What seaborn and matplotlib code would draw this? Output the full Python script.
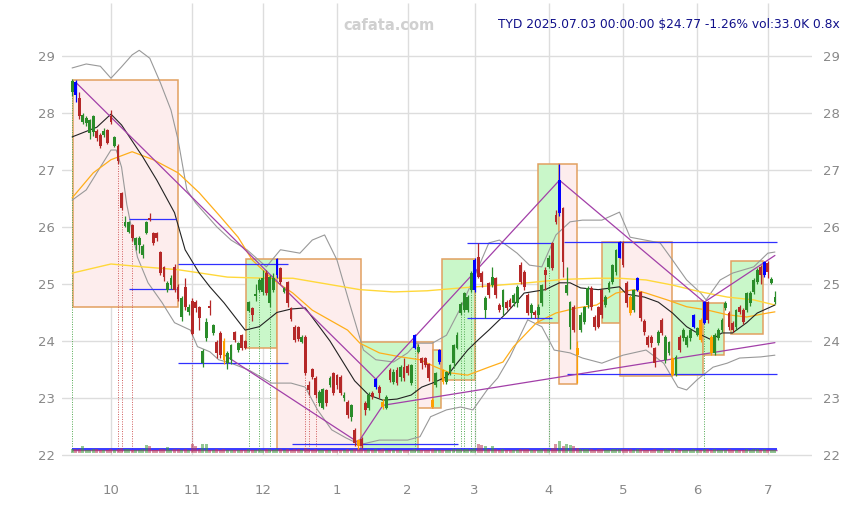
import numpy as np
import pandas as pd
import matplotlib
matplotlib.use("Agg")
import matplotlib.pyplot as plt
import seaborn as sns
from matplotlib.patches import Rectangle

# ---- data ----
holidays = ["2024-11-28", "2024-12-25", "2025-01-01", "2025-01-09", "2025-01-20",
            "2025-02-17", "2025-04-18", "2025-05-26", "2025-06-19"]
dates = pd.bdate_range("2024-09-16", "2025-07-03")
dates = dates[~dates.isin(pd.to_datetime(holidays))]

opens = [28.37, 28.55, 28.26, 27.84, 27.82, 27.65, 27.67, 27.68, 27.61, 27.62,
         27.70, 27.94, 27.42, 27.42, 26.60, 26.02, 25.92, 26.03, 25.68, 25.68,
         25.51, 25.90, 26.15, 25.90, 25.90, 25.56, 25.30, 24.90, 24.98, 25.30,
         24.95, 24.42, 24.95, 24.50, 24.70, 24.69, 24.60, 23.61, 24.05, 24.62,
         24.14, 23.99, 24.14, 24.00, 23.61, 23.67, 24.15, 23.84, 24.10, 24.00,
         24.53, 24.58, 24.78, 24.90, 24.86, 25.19, 24.67, 24.90, 25.16, 25.28,
         24.86, 25.04, 24.58, 24.25, 24.24, 23.98, 24.07, 23.23, 23.50, 23.35,
         22.91, 22.82, 23.14, 23.23, 23.44, 23.40, 23.37, 23.00, 22.93, 22.67,
         22.44, 22.26, 22.28, 22.91, 22.82, 23.09, 23.19, 23.19, 22.93, 22.82,
         23.49, 23.28, 23.49, 23.37, 23.54, 23.56, 23.26, 23.88, 23.81, 23.70,
         23.70, 23.60, 22.96, 23.23, 23.63, 23.49, 23.28, 23.46, 23.61, 23.88,
         24.49, 24.54, 24.54, 24.90, 24.90, 25.47, 25.19, 24.54, 25.02, 24.98,
         25.10, 24.63, 24.60, 24.68, 24.72, 24.67, 24.67, 25.33, 25.21, 24.81,
         24.49, 24.51, 24.45, 24.67, 25.25, 25.30, 25.72, 26.21, 26.25, 26.33,
         24.84, 24.25, 24.60, 23.88, 24.19, 24.33, 24.63, 24.93, 24.42, 24.60,
         24.90, 24.63, 24.90, 25.04, 25.21, 25.46, 25.72, 25.02, 24.77, 24.54,
         24.90, 24.86, 24.35, 24.07, 24.07, 23.88, 23.96, 24.37, 23.67, 23.79,
         23.70, 23.40, 24.07, 24.05, 23.93, 24.05, 24.25, 24.11, 24.37, 24.32,
         24.68, 24.07, 23.79, 24.05, 24.19, 24.58, 24.49, 24.32, 24.25, 24.60,
         24.54, 24.54, 24.67, 24.86, 25.04, 25.30, 25.16, 25.37, 25.02, 24.68]
closes = [28.57, 28.32, 27.95, 27.96, 27.92, 27.88, 27.95, 27.56, 27.42, 27.68,
          27.48, 27.84, 27.58, 27.15, 26.34, 26.09, 26.09, 25.81, 25.80, 25.80,
          25.67, 26.08, 26.12, 25.72, 25.80, 25.19, 25.12, 25.02, 25.10, 24.90,
          24.74, 24.75, 24.60, 24.60, 24.12, 24.58, 24.40, 23.82, 24.34, 24.58,
          24.28, 23.78, 23.75, 23.67, 23.79, 23.93, 24.02, 23.96, 23.88, 23.88,
          24.69, 24.46, 24.82, 25.07, 25.10, 24.84, 25.13, 25.10, 25.44, 25.04,
          24.93, 24.67, 24.39, 24.01, 24.03, 24.07, 23.43, 23.14, 23.37, 23.05,
          23.11, 23.16, 22.91, 23.35, 23.09, 23.23, 23.09, 23.05, 22.70, 22.88,
          22.21, 22.15, 22.16, 22.79, 23.05, 23.02, 23.33, 23.09, 22.84, 23.02,
          23.32, 23.46, 23.26, 23.54, 23.35, 23.44, 23.58, 24.11, 23.90, 23.61,
          23.58, 23.35, 22.84, 23.44, 23.84, 23.28, 23.46, 23.58, 23.93, 24.11,
          24.65, 24.84, 24.77, 25.19, 25.42, 25.12, 25.04, 24.75, 24.81, 25.12,
          24.81, 24.54, 24.90, 24.58, 24.60, 24.81, 24.95, 25.04, 24.95, 24.49,
          24.63, 24.46, 24.60, 24.98, 25.16, 25.46, 25.28, 26.09, 26.82, 25.39,
          24.98, 24.68, 24.19, 23.75, 24.46, 24.60, 24.93, 24.60, 24.25, 24.25,
          24.46, 24.77, 25.02, 25.33, 25.60, 25.74, 25.33, 24.67, 24.49, 24.90,
          25.10, 24.40, 24.15, 23.93, 23.96, 23.61, 24.16, 24.14, 24.07, 23.98,
          23.40, 23.72, 23.84, 24.19, 24.07, 24.19, 24.46, 24.23, 24.02, 24.68,
          24.37, 23.79, 24.11, 24.19, 24.37, 24.67, 24.25, 24.19, 24.54, 24.51,
          24.33, 24.84, 24.84, 25.07, 25.25, 25.16, 25.39, 25.21, 25.09, 24.77]
highs = [28.60, 28.58, 28.36, 28.00, 27.95, 27.90, 27.97, 27.72, 27.65, 27.74,
         27.72, 28.06, 27.60, 27.45, 26.62, 26.20, 26.10, 26.05, 25.82, 25.85,
         25.70, 26.10, 26.25, 25.92, 25.92, 25.58, 25.32, 25.05, 25.15, 25.35,
         25.00, 24.78, 25.10, 24.65, 24.75, 24.72, 24.62, 23.85, 24.40, 24.72,
         24.30, 24.02, 24.18, 24.05, 23.82, 23.95, 24.18, 23.98, 24.12, 24.02,
         24.70, 24.60, 25.00, 25.10, 25.25, 25.25, 25.15, 25.20, 25.46, 25.30,
         24.95, 25.06, 24.60, 24.28, 24.26, 24.10, 24.10, 23.30, 23.52, 23.38,
         23.14, 23.18, 23.16, 23.38, 23.46, 23.42, 23.40, 23.10, 22.96, 22.90,
         22.48, 22.28, 22.32, 22.95, 23.10, 23.12, 23.35, 23.22, 22.98, 23.05,
         23.52, 23.50, 23.55, 23.58, 23.70, 23.60, 23.60, 24.12, 23.95, 23.72,
         23.72, 23.62, 23.00, 23.46, 23.86, 23.50, 23.48, 23.60, 23.95, 24.15,
         24.68, 24.86, 24.80, 25.22, 25.45, 25.72, 25.22, 24.78, 25.04, 25.30,
         25.12, 24.66, 24.92, 24.72, 24.75, 24.84, 24.98, 25.38, 25.24, 24.84,
         24.66, 24.54, 24.65, 25.00, 25.30, 25.50, 25.74, 26.30, 27.10, 26.35,
         25.30, 24.70, 24.63, 24.00, 24.50, 24.62, 24.96, 24.96, 24.45, 24.62,
         24.92, 24.80, 25.05, 25.35, 25.62, 25.76, 25.75, 25.05, 24.80, 24.92,
         25.12, 24.88, 24.38, 24.10, 24.10, 23.90, 24.20, 24.40, 24.10, 24.00,
         23.72, 23.75, 24.10, 24.22, 24.10, 24.22, 24.48, 24.25, 24.40, 24.70,
         24.70, 24.10, 24.14, 24.22, 24.40, 24.70, 24.52, 24.35, 24.56, 24.63,
         24.58, 24.86, 24.87, 25.10, 25.28, 25.33, 25.40, 25.40, 25.13, 24.88]
lows = [28.30, 28.20, 27.90, 27.80, 27.78, 27.55, 27.60, 27.50, 27.38, 27.58,
        27.45, 27.80, 27.40, 27.10, 26.30, 26.00, 25.90, 25.76, 25.60, 25.55,
        25.45, 25.88, 26.10, 25.68, 25.76, 25.15, 25.05, 24.85, 24.92, 24.85,
        24.70, 24.35, 24.55, 24.45, 24.10, 24.50, 24.20, 23.55, 24.00, 24.45,
        24.10, 23.70, 23.70, 23.60, 23.50, 23.60, 23.98, 23.80, 23.84, 23.85,
        24.50, 24.35, 24.70, 24.85, 24.80, 24.80, 24.60, 24.85, 25.10, 25.00,
        24.84, 24.60, 24.35, 23.98, 24.00, 23.96, 23.40, 23.05, 23.33, 23.00,
        22.85, 22.80, 22.85, 23.20, 23.05, 23.15, 23.05, 22.95, 22.65, 22.60,
        22.15, 22.10, 22.12, 22.70, 22.78, 22.98, 23.15, 23.00, 22.80, 22.80,
        23.28, 23.25, 23.22, 23.30, 23.30, 23.40, 23.22, 23.85, 23.78, 23.50,
        23.55, 23.30, 22.82, 23.20, 23.60, 23.25, 23.25, 23.40, 23.55, 23.85,
        24.45, 24.50, 24.50, 24.85, 24.85, 25.10, 24.95, 24.40, 24.75, 24.95,
        24.75, 24.50, 24.45, 24.55, 24.58, 24.62, 24.60, 25.00, 24.90, 24.45,
        24.40, 24.40, 24.40, 24.62, 24.90, 25.28, 25.25, 26.05, 26.20, 25.12,
        24.80, 23.85, 24.15, 23.26, 24.15, 24.30, 24.58, 24.55, 24.20, 24.22,
        24.40, 24.60, 24.85, 25.00, 25.15, 25.45, 25.30, 24.60, 24.45, 24.50,
        24.88, 24.35, 24.10, 23.90, 23.90, 23.55, 23.92, 24.10, 23.62, 23.75,
        23.38, 23.38, 23.80, 24.00, 23.90, 24.00, 24.22, 24.08, 23.98, 24.30,
        24.32, 23.75, 23.75, 24.02, 24.15, 24.55, 24.20, 24.15, 24.20, 24.48,
        24.30, 24.50, 24.62, 24.82, 25.00, 25.00, 25.12, 25.10, 25.00, 24.65]
volumes_k = [45, 40, 38, 70, 36, 34, 40, 38, 35, 33, 36, 42, 35, 44, 48, 40, 38, 36, 34, 33,
             38, 80, 75, 36, 34, 40, 38, 60, 35, 42, 40, 36, 38, 34, 85, 70, 40, 90, 85, 36,
             34, 38, 36, 40, 34, 33, 36, 35, 34, 33, 40, 36, 34, 38, 36, 40, 38, 34, 44, 40,
             36, 38, 36, 40, 38, 34, 46, 40, 36, 38, 34, 36, 35, 33, 36, 34, 36, 33, 38, 36,
             42, 46, 40, 36, 38, 35, 40, 36, 38, 34, 36, 35, 36, 34, 36, 33, 35, 40, 36, 34,
             33, 35, 38, 34, 36, 35, 34, 36, 38, 40, 42, 40, 38, 44, 50, 90, 80, 75, 40, 70,
             40, 36, 38, 34, 33, 35, 36, 40, 38, 40, 35, 34, 36, 40, 42, 44, 48, 90, 120, 70,
             85, 80, 75, 50, 40, 38, 40, 38, 36, 38, 40, 35, 36, 38, 40, 44, 42, 40, 38, 35,
             38, 40, 36, 35, 34, 38, 35, 36, 38, 34, 40, 38, 36, 34, 35, 33, 38, 34, 36, 40,
             38, 36, 38, 34, 35, 36, 38, 34, 36, 33, 35, 38, 36, 38, 40, 36, 38, 36, 34, 33]

pivot_high_idx = [1, 58, 86, 97, 104, 114, 138, 155, 160, 176, 179, 196]
pivot_low_idx = [43, 81, 88, 102, 105, 143, 158, 170, 178, 181]

# indicator lines, sampled along the chart (bar index, price)
sma20_idx = [0, 7, 11, 14, 20, 24, 29, 32, 36, 39, 43, 49, 53, 58, 62, 66, 70, 73, 76, 80,
             84, 88, 92, 96, 99, 102, 106, 109, 112, 115, 118, 123, 128, 134, 138, 141, 144,
             149, 155, 157, 162, 166, 170, 174, 177, 181, 184, 187, 191, 194, 199]
sma20_val = [27.58, 27.75, 27.98, 27.79, 27.23, 26.82, 26.25, 25.60, 25.19, 24.95, 24.67,
             24.19, 24.25, 24.50, 24.56, 24.58, 24.25, 24.00, 23.70, 23.30, 23.05, 22.96,
             22.98, 23.05, 23.19, 23.26, 23.37, 23.61, 23.84, 24.02, 24.19, 24.49, 24.84,
             24.90, 25.02, 25.02, 24.93, 24.90, 24.95, 24.82, 24.77, 24.68, 24.49, 24.25,
             24.14, 24.02, 24.14, 24.14, 24.32, 24.49, 24.63]
upper_idx = [0, 4, 8, 11, 14, 17, 19, 22, 25, 28, 30, 32.5, 35, 41, 45, 49.5, 55, 59, 64.5,
             68, 71.5, 75, 78.5, 82.5, 86, 91, 95, 97.5, 102, 106, 110, 113.5, 118, 121,
             126, 129.5, 133, 137, 141, 144.5, 150, 155, 158, 166.5, 170, 174, 178, 179.5,
             183.5, 187, 193, 197, 199]
upper_val = [28.79, 28.86, 28.82, 28.61, 28.81, 29.02, 29.10, 28.96, 28.53, 28.05, 27.53,
             26.65, 26.42, 26.00, 25.77, 25.60, 25.30, 25.60, 25.54, 25.77, 25.86, 25.42,
             24.67, 23.84, 23.67, 23.63, 23.79, 23.96, 23.96, 24.10, 24.58, 25.07, 25.72,
             25.77, 25.54, 25.33, 25.30, 25.86, 26.09, 26.12, 26.12, 26.26, 25.82, 25.72,
             25.42, 25.07, 24.84, 24.72, 25.07, 25.19, 25.30, 25.54, 25.56]
lower_idx = [0, 4, 8, 11, 12.5, 14, 15.5, 18.5, 21.5, 25.5, 29, 33.5, 35.5, 39, 41.5, 45,
             50, 56.5, 62, 66, 69.5, 73.5, 77.5, 81.5, 87, 95, 98.5, 101.5, 106, 110, 113.5,
             117.5, 120.5, 124, 129, 133, 136.5, 141, 144.5, 150, 156, 162.5, 167.5, 171.5,
             174, 177, 181.5, 185.5, 189, 195, 199]
lower_val = [26.47, 26.65, 27.05, 27.35, 27.35, 27.05, 26.39, 25.47, 25.02, 24.67, 24.32,
             24.19, 23.90, 23.81, 23.67, 23.61, 23.49, 23.26, 23.26, 23.19, 22.79, 22.44,
             22.30, 22.18, 22.26, 22.26, 22.32, 22.67, 22.79, 22.84, 22.79, 23.14, 23.35,
             23.72, 24.37, 24.25, 23.84, 23.79, 23.70, 23.61, 23.75, 23.84, 23.61, 23.19,
             23.14, 23.32, 23.54, 23.61, 23.70, 23.72, 23.75]
sma50_idx = [0, 6, 11, 17, 23, 30, 36, 42, 47, 51, 57, 62.5, 68, 78, 81.5, 87, 93, 98.5,
             103, 107, 112, 118, 122, 125, 131.5, 137, 143, 148.5, 154, 159, 162.5, 168.5,
             174, 180, 185.5, 191, 197, 199]
sma50_val = [26.51, 26.95, 27.18, 27.32, 27.18, 26.95, 26.60, 26.18, 25.82, 25.42, 25.07,
             24.84, 24.54, 24.19, 23.96, 23.79, 23.72, 23.67, 23.54, 23.44, 23.40, 23.54,
             23.63, 23.90, 24.32, 24.49, 24.58, 24.63, 24.84, 24.90, 24.84, 24.72, 24.60,
             24.54, 24.46, 24.42, 24.49, 24.51]
sma200_idx = [0, 11, 20, 30, 44, 55, 62.5, 72, 81.5, 91, 100.5, 110, 119, 129, 139, 148.5,
              155, 162.5, 170, 178, 185.5, 193, 199]
sma200_val = [25.19, 25.35, 25.30, 25.25, 25.12, 25.10, 25.10, 25.00, 24.90, 24.86, 24.88,
              24.93, 24.97, 25.02, 25.08, 25.10, 25.10, 25.07, 24.98, 24.86, 24.77, 24.72,
              24.63]

# trend lines through pivots
high_trend_idx = [1, 86, 138, 179, 199]
high_trend_val = [28.54, 23.33, 26.82, 24.68, 25.50]
low_trend_idx = [43, 81, 88, 199]
low_trend_val = [23.76, 22.22, 22.87, 23.97]

# consolidation boxes
box_start = [0.3, 49.3, 58.1, 81.8, 98.0, 102.2, 104.8, 132.0, 138.0, 150.0, 155.0, 169.8, 178.7, 186.6]
box_end = [30.1, 58.1, 81.8, 98.0, 102.2, 104.5, 114.0, 138.0, 142.9, 155.0, 169.8, 178.7, 184.6, 195.7]
box_top = [28.58, 25.44, 25.44, 23.98, 23.98, 23.84, 25.44, 27.10, 27.10, 25.74, 25.73, 24.70, 24.66, 25.40]
box_bottom = [24.59, 23.88, 22.09, 22.09, 22.82, 22.82, 23.32, 24.31, 23.25, 24.31, 23.39, 23.40, 23.75, 24.12]
box_kind = ["down", "up", "down", "up", "down", "up", "up", "up", "down", "up", "down", "up", "up", "up"]

# support / resistance segments
lvl_start = [16.1, 16.1, 30.0, 30.0, 62.2, 111.7, 111.7, 139.4, 140.0]
lvl_end = [29.4, 29.4, 61.1, 61.1, 109.4, 135.8, 135.8, 199.5, 199.5]
lvl_price = [26.14, 24.91, 25.35, 23.61, 22.19, 25.71, 24.40, 25.74, 23.42]

red_signal_idx = [13, 14, 17, 34, 66, 67, 69]
green_signal_idx = [0, 50, 53, 56, 97, 108, 110, 111, 113, 114, 135, 179]

# ---- figure ----
sns.set_style("white")
plt.rcParams["font.family"] = ["DejaVu Sans"]

fig = plt.figure(figsize=(8.5, 5.05), dpi=100)
ax = fig.add_axes([62 / 850, 33 / 505, 750 / 850, 469 / 505])
y_lo, y_hi = 21.70, 29.93
x_lo, x_hi = -2.86, 209.5

n = len(closes)
idx = np.arange(n)
o = np.array(opens)
c = np.array(closes)
h = np.array(highs)
l = np.array(lows)

# grid
month_first = pd.Series(idx, index=dates).groupby([dates.year, dates.month]).first()
tick_pos = [p for p in month_first.values if p > 0]
tick_lab = [str(dates[p].month) for p in tick_pos]
for yv in range(22, 30):
    ax.axhline(yv, color="#dddddd", lw=1, zorder=0)
ax.vlines(tick_pos, 22, y_hi, color="#dddddd", lw=1, zorder=0)

# boxes
for x0, x1, t, b, k in zip(box_start, box_end, box_top, box_bottom, box_kind):
    fc = "#fdeded" if k == "down" else "#c9f7c9"
    ax.add_patch(Rectangle((x0, b), x1 - x0, t - b, facecolor=fc, edgecolor="#e2a060",
                           lw=1.1, zorder=1))

# signal dotted lines
for i in red_signal_idx:
    ax.vlines(i, 22.07, lows[i], color="#d05a5a", lw=0.7, linestyles=(0, (1, 1.5)), zorder=2)
for i in green_signal_idx:
    ax.vlines(i, 22.07, lows[i], color="#4fa84f", lw=0.7, linestyles=(0, (1, 1.5)), zorder=2)

# indicator lines
sns.lineplot(x=upper_idx, y=upper_val, ax=ax, color="#999999", lw=0.8, zorder=3)
sns.lineplot(x=lower_idx, y=lower_val, ax=ax, color="#999999", lw=0.8, zorder=3)
sns.lineplot(x=sma200_idx, y=sma200_val, ax=ax, color="#ffd83a", lw=1.0, zorder=3)
sns.lineplot(x=sma50_idx, y=sma50_val, ax=ax, color="#ffae1a", lw=0.9, zorder=3)
sns.lineplot(x=sma20_idx, y=sma20_val, ax=ax, color="#222222", lw=0.8, zorder=3)

# levels and trend lines
ax.hlines(lvl_price, lvl_start, lvl_end, color="#3030ff", lw=0.9, zorder=4)
sns.lineplot(x=high_trend_idx, y=high_trend_val, ax=ax, color="#a23fa8", lw=0.9, zorder=4)
sns.lineplot(x=low_trend_idx, y=low_trend_val, ax=ax, color="#a23fa8", lw=0.9, zorder=4)

# volume strip at bottom
vol = np.array(volumes_k)
vol_col = np.where(c >= o, "#3a9a3a", "#b83a55")
ax.hlines(22.085, 0, n - 0.5, color="#a23fa8", lw=1.0, zorder=4)
ax.hlines(22.10, 0, n - 0.5, color="#2b2bff", lw=1.3, zorder=4)
ax.bar(idx, vol * 0.0018, bottom=22.03, width=0.85, color=vol_col, alpha=0.55,
       linewidth=0, edgecolor="none", zorder=5)

# candles
cols = []
for i in range(n):
    if i in pivot_high_idx:
        cols.append("#0000ff")
    elif i in pivot_low_idx:
        cols.append("#ffa000")
    elif c[i] >= o[i]:
        cols.append("#2a8c2a")
    else:
        cols.append("#b52828")
ax.vlines(idx, l, h, color=cols, lw=0.9, zorder=6)
body_lo = np.minimum(o, c)
body_h = np.maximum(np.abs(c - o), 0.02)
ax.bar(idx, body_h, bottom=body_lo, width=0.8, color=cols, linewidth=0,
       edgecolor="none", zorder=7)

ax.set_xlim(x_lo, x_hi)
ax.set_ylim(y_lo, y_hi)
ax.set_xticks(tick_pos)
ax.set_xticklabels(tick_lab)
ax.set_yticks(range(22, 30))
ax.tick_params(axis="x", length=4, width=1, color="#333333", pad=5, labelsize=9.5,
               labelcolor="#888888", direction="out")
ax.tick_params(axis="y", length=0, pad=5, labelsize=9.5, labelcolor="#888888")
ax.set_xlabel("")
ax.set_ylabel("")
for s in ax.spines.values():
    s.set_visible(False)

ax2 = ax.twinx()
ax2.set_ylim(y_lo, y_hi)
ax2.set_yticks(range(22, 30))
ax2.tick_params(axis="y", length=0, pad=8, labelsize=9.5, labelcolor="#888888")
for s in ax2.spines.values():
    s.set_visible(False)

fig.text(389 / 850, 1 - 25 / 505, "cafata.com", ha="center", va="center",
         fontsize=10.5, fontweight="bold", color="#d0d0d0")
fig.text(840 / 850, 1 - 25 / 505, "TYD 2025.07.03 00:00:00 $24.77 -1.26% vol:33.0K 0.8x",
         ha="right", va="center", fontsize=8.8, color="#10108a")

fig.savefig("out.png", dpi=100)
